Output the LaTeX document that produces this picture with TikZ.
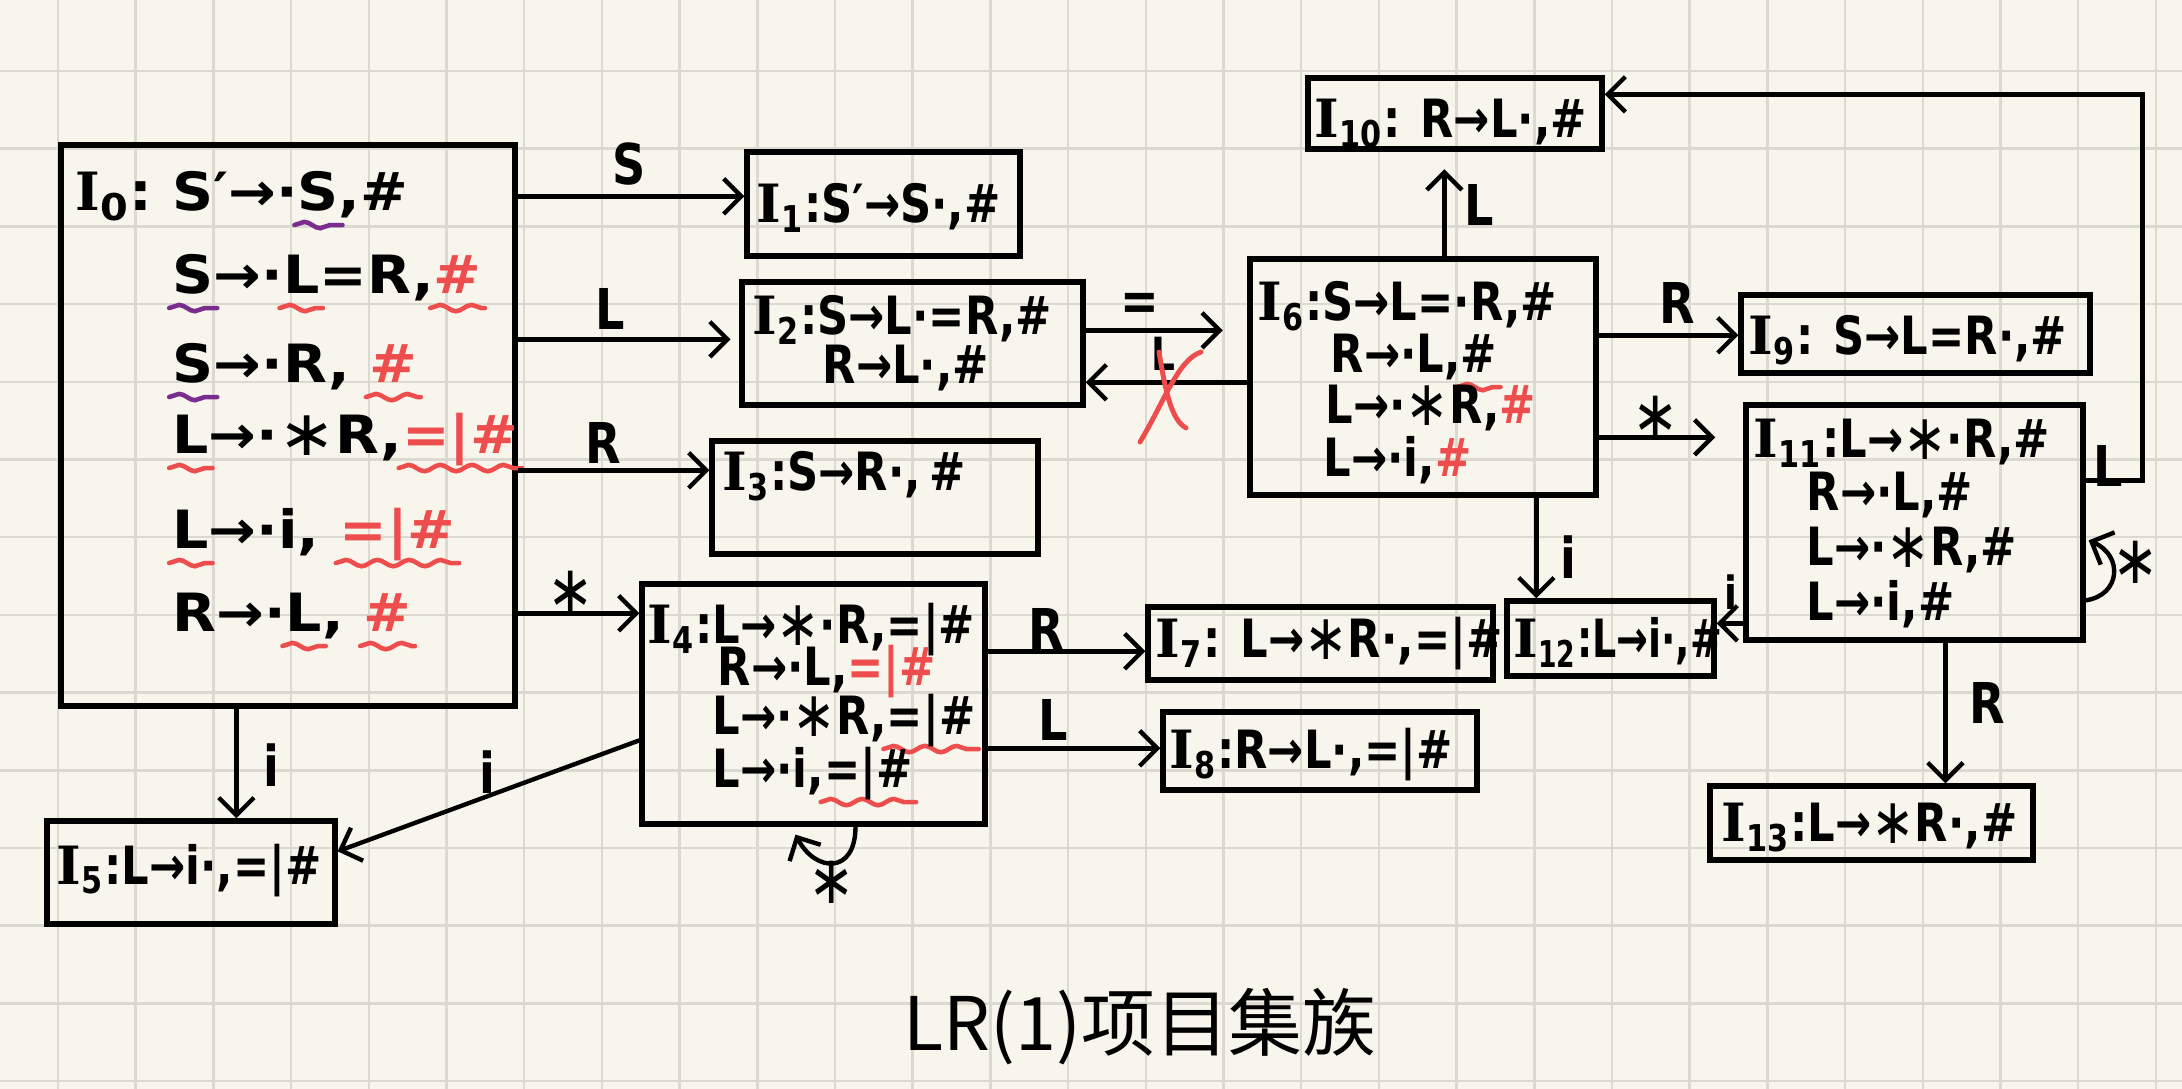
\documentclass[tikz,border=0pt]{standalone}
\usepackage{fontspec}
\usepackage{graphicx}
\newfontfamily\hand{DejaVu Sans}[FakeStretch=0.82]
\newfontfamily\handw{DejaVu Sans}[FakeStretch=1.08]
\newfontfamily\handn{DejaVu Sans}[FakeStretch=0.72]
\newfontfamily\serifI{DejaVu Serif}
\newfontfamily\cjk{Noto Sans CJK SC}
\usetikzlibrary{arrows.meta,calc,decorations.pathmorphing}
\definecolor{paper}{HTML}{F7F5EC}
\definecolor{gridc}{HTML}{DCD9D0}
\definecolor{redc}{HTML}{EE4D4D}
\definecolor{purp}{HTML}{7A2D8E}
\newdimen\wvw
\newcommand\wv[2]{%
  \setbox0=\hbox{#2}\wvw=\wd0\relax
  \rlap{\tikz[overlay]\draw[#1,line width=1.3pt,line cap=round,decorate,decoration={snake,amplitude=0.9pt,segment length=9pt}] (-1pt,-4pt) -- (\wvw+1pt,-4pt);}#2}
\newcommand\rdx[1]{\textcolor{redc}{#1}}
\newcommand\isub[1]{\textsubscript{#1}}
\newcommand\Ii{{\serifI\bfseries I}}
\newcommand\sstar{\raisebox{-0.3pt}{\scalebox{1.2}{\mdseries ∗}}}
\newcommand\boxat[5]{\node[box,minimum width=#4*0.01cm,minimum height=#5*0.01cm] (#1) at (#2,#3) {};}
\begin{document}
\begin{tikzpicture}[x=0.01cm,y=-0.01cm,
  box/.style={draw,line width=1.5pt,inner sep=0pt},
  arr/.style={line width=1.25pt,-{Straight Barb[length=5pt,width=10pt,line width=1.25pt]}},
  txt/.style={anchor=base west,inner sep=0pt,font=\hand\bfseries\fontsize{15}{18}\selectfont},
  wtxt/.style={txt,font=\handw\bfseries\fontsize{15}{18}\selectfont},
  ntxt/.style={txt,font=\handn\bfseries\fontsize{15}{18}\selectfont},
  lbl/.style={inner sep=0pt,font=\hand\bfseries\fontsize{16}{19}\selectfont},
  xmark/.style={redc,line width=1.4pt,line cap=round}]
\useasboundingbox (0,0) rectangle (2182,1089);
\fill[paper] (0,0) rectangle (2182,1089);
\foreach \i in {0,...,27} {\draw[gridc,line width=0.7pt] ({58+77.7*\i},0) -- ({58+77.7*\i},1089);}
\foreach \j in {0,...,13} {\draw[gridc,line width=0.7pt] (0,{71+77.7*\j}) -- (2182,{71+77.7*\j});}

% boxes
\boxat{I0}{288}{425.5}{454}{561}
\boxat{I1}{883.5}{204}{273}{104}
\boxat{I2}{912.5}{343.5}{341}{123}
\boxat{I3}{875}{497.5}{326}{113}
\boxat{I4}{813.5}{704}{343}{240}
\boxat{I5}{191}{872.5}{288}{103}
\boxat{I6}{1423}{377}{346}{236}
\boxat{I7}{1320.5}{643.5}{345}{73}
\boxat{I8}{1320}{751}{314}{78}
\boxat{I9}{1915.5}{334}{349}{78}
\boxat{I10}{1455}{113.5}{294}{71}
\boxat{I11}{1914.5}{522.5}{337}{235}
\boxat{I12}{1610.5}{638.5}{207}{75}
\boxat{I13}{1871.5}{823}{323}{74}

% texts
\node[wtxt] (t0a) at (75,211) {\Ii\isub{0}:\ S′→·\wv{purp}{S},\#};
\node[wtxt] (t0b) at (172,294) {\wv{purp}{S}→·\wv{redc}{L}=R,\wv{redc}{\rdx{\#}}};
\node[wtxt] (t0c) at (172,383) {\wv{purp}{S}→·R,\ \wv{redc}{\rdx{\#}}};
\node[wtxt] (t0d) at (172,454) {\wv{redc}{L}→·\sstar R,\wv{redc}{\rdx{=|\#}}};
\node[wtxt] (t0e) at (172,549) {\wv{redc}{L}→·i,\ \wv{redc}{\rdx{=|\#}}};
\node[wtxt] (t0f) at (172,632) {R→·\wv{redc}{L},\ \wv{redc}{\rdx{\#}}};
\node[txt] (t1) at (756,223) {\Ii\isub{1}:S′→S·,\#};
\node[txt] (t2a) at (752,335) {\Ii\isub{2}:S→L·=R,\#};
\node[txt] (t2b) at (822,384) {R→L·,\#};
\node[txt] (t3) at (722,491) {\Ii\isub{3}:S→R·,\,\#};
\node[txt] (t4a) at (647,644) {\Ii\isub{4}:L→\sstar·R,=|\#};
\node[txt] (t4b) at (717,686) {R→·L,\rdx{=|\#}};
\node[txt] (t4c) at (712,735) {L→·\sstar R,\wv{redc}{=|\#}};
\node[txt] (t4d) at (712,788) {L→·i,\wv{redc}{=|\#}};
\node[txt] (t5) at (56,884) {\Ii\isub{5}:L→i·,=|\#};
\node[txt] (t6a) at (1257,321) {\Ii\isub{6}:S→L=·R,\#};
\node[txt] (t6b) at (1330,373) {R→·L,\wv{redc}{\#}};
\node[txt] (t6c) at (1325,424) {L→·\sstar R,\rdx{\#}};
\node[txt] (t6d) at (1323,477) {L→·i,\rdx{\#}};
\node[txt] (t7) at (1155,658) {\Ii\isub{7}: L→\sstar R·,=|\#};
\node[txt] (t8) at (1169,769) {\Ii\isub{8}:R→L·,=|\#};
\node[txt] (t9) at (1748,355) {\Ii\isub{9}: S→L=R·,\#};
\node[txt] (t10) at (1314,138) {\Ii\isub{10}: R→L·,\#};
\node[txt] (t11a) at (1753,458) {\Ii\isub{11}:L→\sstar·R,\#};
\node[txt] (t11b) at (1806,511) {R→·L,\#};
\node[txt] (t11c) at (1806,566) {L→·\sstar R,\#};
\node[txt] (t11d) at (1806,621) {L→·i,\#};
\node[ntxt] (t12) at (1513,658) {\Ii\isub{12}:L→i·,\#};
\node[txt] (t13) at (1721,842) {\Ii\isub{13}:L→\sstar R·,\#};

% connectors from I0
\coordinate (a1) at ($(I0.north east)+(0,54)$);
\draw[arr] (a1) -- (a1 -| I1.west);
\coordinate (a2) at ($(I0.north east)+(0,197)$);
\draw[arr,shorten >=2.5pt] (a2) -- (a2 -| I2.west);
\coordinate (a3) at ($(I0.north east)+(0,328)$);
\draw[arr] (a3) -- (a3 -| I3.west);
\coordinate (a4) at ($(I0.north east)+(0,471)$);
\draw[arr] (a4) -- (a4 -| I4.west);
\coordinate (a5) at ($(I0.south west)+(178,0)$);
\draw[arr] (a5) -- (a5 |- I5.north);
% from I4
\coordinate (b1) at ($(I4.north west)+(0,159)$);
\coordinate (b1e) at ($(I5.north east)+(0,33)$);
\draw[arr] (b1) -- (b1e);
\coordinate (l4s) at ($(I4.south)+(42,0)$);
\coordinate (l4e) at ($(I4.south)+(-18,8)$);
\draw[arr] (l4s) .. controls +(0,48) and +(20,38) .. (l4e);
\coordinate (b2) at ($(I4.north east)+(0,70)$);
\draw[arr] (b2) -- (b2 -| I7.west);
\coordinate (b3) at ($(I4.north east)+(0,167)$);
\draw[arr] (b3) -- (b3 -| I8.west);
% I2 <-> I6
\coordinate (c1) at ($(I2.north east)+(0,51)$);
\draw[arr,shorten >=7pt] (c1) -- (c1 -| I6.west);
\coordinate (c2) at ($(I6.north west)+(0,126)$);
\draw[arr] (c2) -- (c2 -| I2.east);
% from I6
\coordinate (d1) at ($(I6.north west)+(197,0)$);
\draw[arr,shorten >=5pt] (d1) -- (d1 |- I10.south);
\coordinate (d2) at ($(I6.north east)+(0,79)$);
\draw[arr] (d2) -- (d2 -| I9.west);
\coordinate (d3) at ($(I6.north east)+(0,181)$);
\draw[arr,shorten >=8pt] (d3) -- (d3 -| I11.west);
\coordinate (d4) at ($(I6.south west)+(289,0)$);
\draw[arr] (d4) -- (d4 |- I12.north);
% from I11
\coordinate (e1) at ($(I11.north west)+(0,221)$);
\draw[arr] (e1) -- (e1 -| I12.east);
\coordinate (e2) at ($(I11.north east)+(0,78)$);
\coordinate (e2t) at ($(I10.north east)+(0,19)$);
\draw[arr] (e2) -- ++(57,0) |- (e2t);
\coordinate (e3s) at ($(I11.north east)+(0,198)$);
\coordinate (e3e) at ($(I11.north east)+(3,138)$);
\draw[arr] (e3s) .. controls +(35,-5) and +(35,15) .. (e3e);
\coordinate (e4) at ($(I11.south west)+(202,0)$);
\draw[arr] (e4) -- (e4 |- I13.north);

% labels
\node[lbl] (lS) at (629,164) {S};
\node[lbl] (lL1) at (610,309) {L};
\node[lbl] (lR1) at (603,443) {R};
\node[lbl] (lst1) at (571,592) {\sstar};
\node[lbl] (li1) at (271,765) {i};
\node[lbl] (li2) at (487,772) {i};
\node[lbl] (lst2) at (832,882) {\sstar};
\node[lbl] (lR2) at (1046,629) {R};
\node[lbl] (lL2) at (1053,720) {L};
\node[lbl] (leq) at (1140,307) {=};
\node[lbl,font=\hand\bfseries\fontsize{13}{15}\selectfont] (lL3) at (1163,354) {L};
\node[lbl] (lL4) at (1479,205) {L};
\node[lbl] (lR3) at (1677,303) {R};
\node[lbl] (lst3) at (1656,417) {\sstar};
\node[lbl] (li3) at (1568,557) {i};
\node[lbl,font=\hand\bfseries\fontsize{13}{15}\selectfont] (li4) at (1731,592) {i};
\node[lbl] (lL5) at (2108,466) {L};
\node[lbl] (lst4) at (2136,562) {\sstar};
\node[lbl] (lR4) at (1987,703) {R};
% red cross over L
\draw[xmark] (1140,442) .. controls (1165,400) and (1178,360) .. (1201,352);
\draw[xmark] (1159,352) .. controls (1166,395) and (1172,420) .. (1186,428);

% title
\node[font=\cjk\fontsize{21}{24}\selectfont,inner sep=0pt] (title) at (1140,1027) {LR(1)项目集族};
\end{tikzpicture}
\end{document}
